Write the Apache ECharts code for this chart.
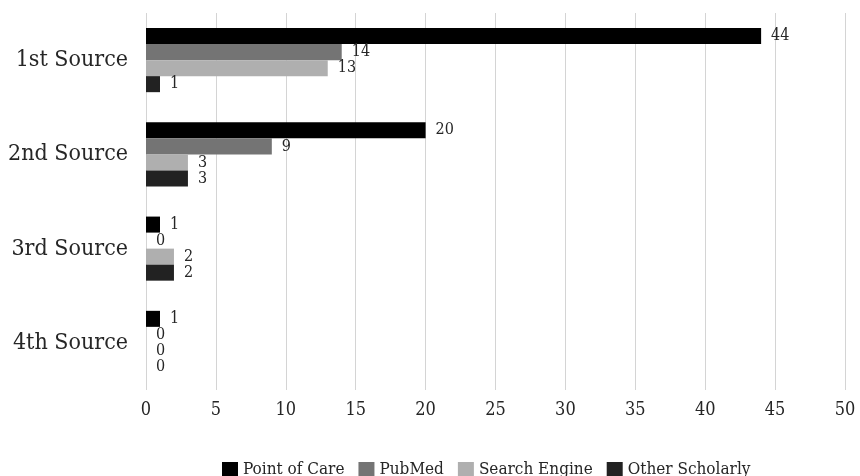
<!DOCTYPE html>
<html>
<head>
<meta charset="utf-8">
<script src="https://cdn.jsdelivr.net/npm/echarts@6/dist/echarts.min.js"></script>
<style>html,body{margin:0;padding:0;background:#fff}#c{width:860px;height:476px}</style>
</head>
<body>
<div id="c"></div>
<script>
const categories = ['1st Source', '2nd Source', '3rd Source', '4th Source'];
const pointOfCare = [44, 20, 1, 1];
const pubMed = [14, 9, 0, 0];
const searchEngine = [13, 3, 2, 0];
const otherScholarly = [1, 3, 2, 0];
const seriesNames = ['Point of Care', 'PubMed', 'Search Engine', 'Other Scholarly'];
const seriesColors = ['#000000', '#747474', '#afafaf', '#222222'];
const seriesData = [pointOfCare, pubMed, searchEngine, otherScholarly];

const FONT = '"DejaVu Serif Condensed", "DejaVu Serif", serif';
const chart = echarts.init(document.getElementById('c'), null, {renderer: 'canvas'});
chart.setOption({
  animation: false,
  textStyle: {fontFamily: FONT},
  grid: {left: 146, right: 15, top: 13, bottom: 86, containLabel: false},
  legend: {
    top: 456,
    left: 217,
    itemWidth: 16, itemHeight: 15, itemGap: 14,
    icon: 'rect',
    textStyle: {fontFamily: FONT, fontSize: 17, color: '#262626'},
    data: seriesNames
  },
  xAxis: {
    type: 'value', min: 0, max: 50, interval: 5,
    axisLine: {show: false}, axisTick: {show: false},
    splitLine: {lineStyle: {color: '#d4d4d4', width: 1}},
    axisLabel: {fontFamily: FONT, fontSize: 18, color: '#262626', margin: 11}
  },
  yAxis: {
    type: 'category', data: categories, inverse: true,
    axisLine: {show: false}, axisTick: {show: false},
    axisLabel: {fontFamily: FONT, fontSize: 23, color: '#262626', margin: 18}
  },
  series: seriesData.map((d, i) => ({
    name: seriesNames[i], type: 'bar', data: d,
    barGap: '0%', barCategoryGap: '32%',
    itemStyle: {color: seriesColors[i]},
    label: {show: true, position: 'right', distance: 10, fontFamily: FONT, fontSize: 16, color: '#262626'}
  }))
});
</script>
</body>
</html>
